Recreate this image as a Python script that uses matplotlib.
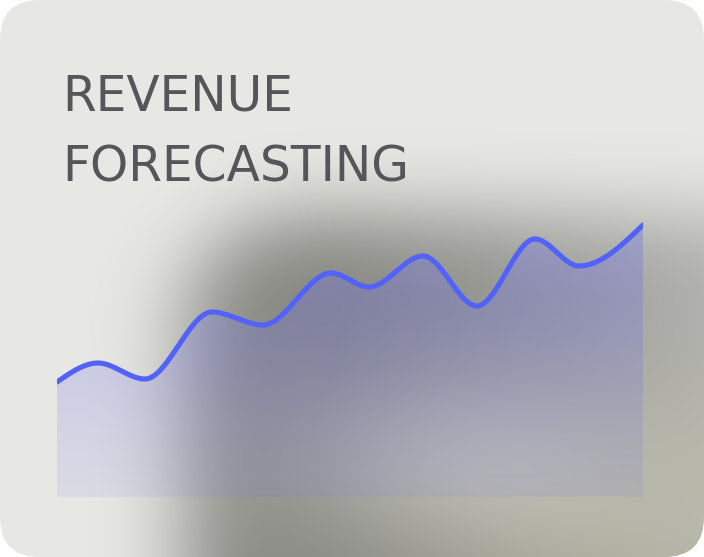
import numpy as np
import matplotlib
matplotlib.use("Agg")
import matplotlib.pyplot as plt
from matplotlib.patches import FancyBboxPatch

# ---- data ----
period = [0, 41, 88, 155, 206, 274, 312, 366, 420, 478, 522, 586]
revenue = [115, 134, 118, 185, 172, 224, 210, 241, 191, 258, 231, 272]
title_lines = ["REVENUE", "FORECASTING"]

W, H = 704, 557
DPI = 100

# ---- styles ----
CARD = np.array([232, 232, 228]) / 255
SHADE = np.array([136, 136, 131]) / 255
LINE_C = "#5262fb"
FILL_C = np.array([108, 112, 236]) / 255
TEXT_C = "#55555a"


def monotone_curve(x, y, n=60):
    x = np.asarray(x, float)
    y = np.asarray(y, float)
    h = np.diff(x)
    d = np.diff(y) / h
    m = np.zeros_like(y)
    for i in range(1, len(y) - 1):
        if d[i - 1] * d[i] > 0:
            w1 = 2 * h[i] + h[i - 1]
            w2 = h[i] + 2 * h[i - 1]
            m[i] = (w1 + w2) / (w1 / d[i - 1] + w2 / d[i])
    m[0] = (3 * d[0] - m[1]) / 2
    m[-1] = (3 * d[-1] - m[-2]) / 2
    xs, ys = [], []
    for i in range(len(h)):
        t = np.linspace(0, 1, n, endpoint=(i == len(h) - 1))
        h00 = 2 * t**3 - 3 * t**2 + 1
        h10 = t**3 - 2 * t**2 + t
        h01 = -2 * t**3 + 3 * t**2
        h11 = t**3 - t**2
        xs.append(x[i] + t * h[i])
        ys.append(h00 * y[i] + h10 * h[i] * m[i] + h01 * y[i + 1] + h11 * h[i] * m[i + 1])
    return np.concatenate(xs), np.concatenate(ys)


def gauss_matrix(n, sigma):
    idx = np.arange(n)
    g = np.exp(-0.5 * ((idx[:, None] - idx[None, :]) / sigma) ** 2)
    return g / g.sum(axis=1, keepdims=True)


# ---- blurred backdrop (decorative) ----
pad = 240
gx = np.arange(-pad, W + pad)
gy = np.arange(-pad, H + pad)
XX, YY = np.meshgrid(gx, gy)
x0, y0, r = 185, 215, 110
inside = (XX >= x0) & (YY >= y0)
corner = (XX < x0 + r) & (YY < y0 + r)
dist = np.hypot(XX - (x0 + r), YY - (y0 + r))
inside &= ~(corner & (dist > r))
M = inside.astype(float)
Gy = gauss_matrix(len(gy), 38)
Gx = gauss_matrix(len(gx), 42)
D = Gy @ M @ Gx.T
D = D[pad:pad + H, pad:pad + W]
px, py = np.meshgrid(np.arange(W), np.arange(H))
fall = 1 - 0.42 * np.clip((px - 330) / 374, 0, 1) ** 1.2
light = np.exp(-0.5 * (((px - 470) / 140) ** 2 + ((py - 460) / 65) ** 2))
light2 = np.exp(-0.5 * (((px - 600) / 110) ** 2 + ((py - 540) / 45) ** 2))
D = D * fall * (1 - 0.42 * light - 0.10 * light2)
D = np.clip(D, 0, 1)
bg = CARD[None, None, :] * (1 - D[..., None]) + SHADE[None, None, :] * D[..., None]
warm = np.clip((px - 350) / 250, 0, 1) * np.clip((py - 330) / 150, 0, 1) * D
bg[..., 2] -= 0.06 * warm
bg = np.clip(bg, 0, 1)

fig = plt.figure(figsize=(W / DPI, H / DPI), dpi=DPI, facecolor="white")
axbg = fig.add_axes([0, 0, 1, 1])
axbg.set_xlim(0, W)
axbg.set_ylim(H, 0)
axbg.axis("off")
card = FancyBboxPatch((0, 0), W, H, boxstyle="round,pad=0,rounding_size=40",
                      transform=axbg.transData, facecolor="none", edgecolor="none")
axbg.add_patch(card)
im = axbg.imshow(bg, extent=(0, W, H, 0), interpolation="bilinear", zorder=0)
im.set_clip_path(card)

# ---- title ----
fig.text(62 / W, 1 - 110 / H, title_lines[0], fontsize=35, color=TEXT_C,
         family="DejaVu Sans", va="baseline", ha="left")
fig.text(62 / W, 1 - 181 / H, title_lines[1], fontsize=35, color=TEXT_C,
         family="DejaVu Sans", va="baseline", ha="left")

# ---- area chart ----
ax = fig.add_axes([57 / W, (H - 497) / H, 586 / W, 497 / H])
ax.axis("off")
ax.patch.set_alpha(0)

sx, sy = monotone_curve(period, revenue)
poly = ax.fill_between(sx, 0, sy, facecolor="none", edgecolor="none")
grad_h = 300
alpha = np.linspace(0.36, 0.10, grad_h)[:, None] * np.ones((1, 10))
rgba = np.zeros((grad_h, 10, 4))
rgba[..., :3] = FILL_C
rgba[..., 3] = alpha
gim = ax.imshow(rgba, extent=(period[0], period[-1], 0, max(revenue)), origin="upper",
                aspect="auto", interpolation="bilinear", zorder=1)
gim.set_clip_path(poly.get_paths()[0], ax.transData)
ax.plot(sx, sy, color=LINE_C, lw=3.7, solid_capstyle="round", zorder=3)
ax.set_xlim(period[0], period[-1])
ax.set_ylim(0, 497)

fig.savefig("out.png", dpi=DPI, facecolor="white")
